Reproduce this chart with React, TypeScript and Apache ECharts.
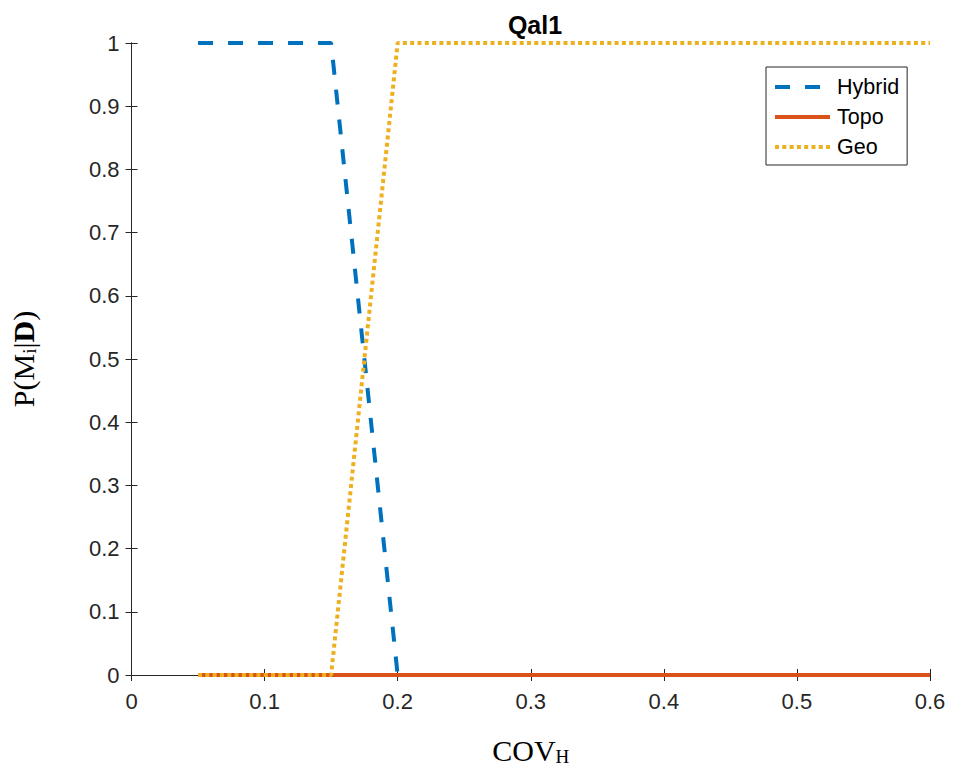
import React, { useEffect, useRef } from "react";
import * as echarts from "echarts";

const xValues = [0.05, 0.1, 0.15, 0.2, 0.25, 0.3, 0.35, 0.4, 0.45, 0.5, 0.55, 0.6];
const hybrid = [1, 1, 1, 0, 0, 0, 0, 0, 0, 0, 0, 0];
const topo = [0, 0, 0, 0, 0, 0, 0, 0, 0, 0, 0, 0];
const geo = [0, 0, 0, 1, 1, 1, 1, 1, 1, 1, 1, 1];
const seriesNames = ["Hybrid", "Topo", "Geo"];
const colors = ["#0072BD", "#D95319", "#EDB120"];

const AX = "#262626";
const SANS = "Liberation Sans, Arial, Helvetica, sans-serif";
const SERIF = "Liberation Serif, Times New Roman, serif";

export default function App() {
  const ref = useRef<HTMLDivElement>(null);
  useEffect(() => {
    document.body.style.margin = "0";
    const chart = echarts.init(ref.current!, null, { renderer: "svg" });
    const pair = (ys: number[]) => xValues.map((x, i) => [x, ys[i]]);
    const tickLabel = { color: AX, fontFamily: SANS, fontSize: 22 };
    chart.setOption({
      animation: false,
      backgroundColor: "#ffffff",
      title: {
        text: "Qal1",
        left: 530,
        textAlign: "center",
        top: 7,
        textStyle: { fontFamily: SANS, fontWeight: "bold", fontSize: 25, color: "#000" },
      },
      grid: { left: 131, right: 25, top: 43, bottom: 99, containLabel: false },
      legend: {
        left: 766,
        top: 67,
        orient: "vertical",
        data: seriesNames,
        itemWidth: 55,
        itemHeight: 20,
        itemGap: 8,
        padding: [9, 8, 7, 7],
        borderColor: AX,
        borderWidth: 1,
        backgroundColor: "#ffffff",
        itemStyle: { opacity: 0 },
        lineStyle: { width: 4 },
        textStyle: { fontFamily: SANS, fontSize: 21.5, color: "#000", padding: [0, 0, 0, 2] },
      },
      xAxis: [
        {
          type: "value",
          min: 0,
          max: 0.6,
          interval: 0.1,
          position: "bottom",
          name: "{a|COV}{s|H}",
          nameLocation: "middle",
          nameGap: 60,
          nameTextStyle: {
            rich: {
              a: { fontFamily: SERIF, fontSize: 30, color: "#000" },
              s: { fontFamily: SERIF, fontSize: 19, color: "#000", padding: [12, 0, 0, 0] },
            },
          },
          axisLine: { lineStyle: { color: AX, width: 1 } },
          axisTick: { inside: true, length: 6, lineStyle: { color: AX } },
          axisLabel: { ...tickLabel, margin: 15 },
          splitLine: { show: false },
        },
        {
          type: "value",
          min: 0,
          max: 0.6,
          interval: 0.1,
          position: "top",
          axisLine: { lineStyle: { color: AX, width: 1 } },
          axisTick: { inside: true, length: 6, lineStyle: { color: AX } },
          axisLabel: { show: false },
          splitLine: { show: false },
        },
      ],
      yAxis: [
        {
          type: "value",
          min: 0,
          max: 1,
          interval: 0.1,
          position: "left",
          name: "{a|P(M}{s|i}{a||}{b|D}{a|)}",
          nameLocation: "middle",
          nameRotate: 90,
          nameGap: 93,
          nameTextStyle: {
            rich: {
              a: { fontFamily: SERIF, fontSize: 30, color: "#000" },
              b: { fontFamily: SERIF, fontSize: 30, fontWeight: "bold", color: "#000" },
              s: { fontFamily: SERIF, fontSize: 19, color: "#000", padding: [12, 0, 0, 0] },
            },
          },
          axisLine: { lineStyle: { color: AX, width: 1 } },
          axisTick: { inside: true, length: 6, lineStyle: { color: AX } },
          axisLabel: { ...tickLabel, margin: 12 },
          splitLine: { show: false },
        },
        {
          type: "value",
          min: 0,
          max: 1,
          interval: 0.1,
          position: "right",
          axisLine: { lineStyle: { color: AX, width: 1 } },
          axisTick: { inside: true, length: 6, lineStyle: { color: AX } },
          axisLabel: { show: false },
          splitLine: { show: false },
        },
      ],
      series: [
        {
          name: "Hybrid",
          type: "line",
          data: pair(hybrid),
          symbol: "none",
          color: colors[0],
          lineStyle: { color: colors[0], width: 4, type: [15, 15] },
          z: 2,
        },
        {
          name: "Topo",
          type: "line",
          data: pair(topo),
          symbol: "none",
          color: colors[1],
          lineStyle: { color: colors[1], width: 4, type: "solid" },
          z: 3,
        },
        {
          name: "Geo",
          type: "line",
          data: pair(geo),
          symbol: "none",
          color: colors[2],
          lineStyle: { color: colors[2], width: 4, type: [4, 3.3] },
          z: 4,
        },
      ],
    });
    return () => chart.dispose();
  }, []);
  return <div ref={ref} style={{ width: 955, height: 774 }} />;
}
